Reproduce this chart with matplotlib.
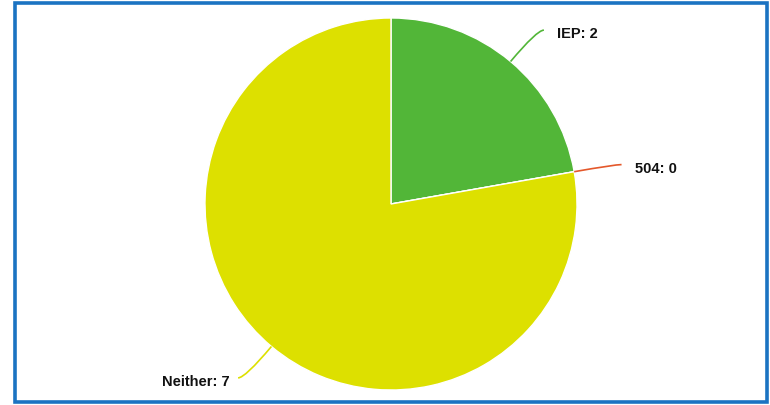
import numpy as np
import matplotlib.pyplot as plt
from matplotlib.patches import Rectangle, PathPatch
from matplotlib.path import Path

# Plan counts
categories = ["IEP", "504", "Neither"]
values = [2, 0, 7]
colors = ["#52b638", "#e4582b", "#dde000"]
line_colors = ["#52b638", "#e4582b", "#dde000"]

W, H = 770, 405
fig = plt.figure(figsize=(W / 100, H / 100), dpi=100)
ax = fig.add_axes([0, 0, 1, 1])

cx, cy, r = 391, H - 204, 186

ax.pie(values, colors=colors, startangle=90, counterclock=False,
       center=(cx, cy), radius=r, frame=True,
       wedgeprops=dict(edgecolor="white", linewidth=1))
ax.set_xlim(0, W)
ax.set_ylim(0, H)
ax.set_aspect("equal")
ax.axis("off")

total = sum(values)
start = 90.0
for name, v, lc in zip(categories, values, line_colors):
    span = 360.0 * v / total
    mid = np.deg2rad(start - span / 2)
    start -= span
    x0, y0 = cx + r * np.cos(mid), cy + r * np.sin(mid)
    x1, y1 = cx + (r + 41) * np.cos(mid), cy + (r + 41) * np.sin(mid)
    side = 1 if np.cos(mid) >= 0 else -1
    x2, y2 = x1 + side * 7, y1
    path = Path([(x0, y0), (x1, y1), (x2, y2)],
                [Path.MOVETO, Path.CURVE3, Path.CURVE3])
    ax.add_patch(PathPatch(path, facecolor="none", edgecolor=lc, linewidth=1.2))
    gap = 13 if side > 0 else 8
    ax.text(x2 + side * gap, y2 - 4, f"{name}: {v}", fontsize=10.5, fontweight="bold",
            family="Liberation Sans", color="#111111",
            ha="left" if side > 0 else "right", va="center")

# Outer frame
ax.add_patch(Rectangle((15, 3), 752, 399.5, facecolor="none",
                       edgecolor="#1b73c2", linewidth=2.6, clip_on=False))

fig.savefig("out.png", dpi=100, facecolor="white")
